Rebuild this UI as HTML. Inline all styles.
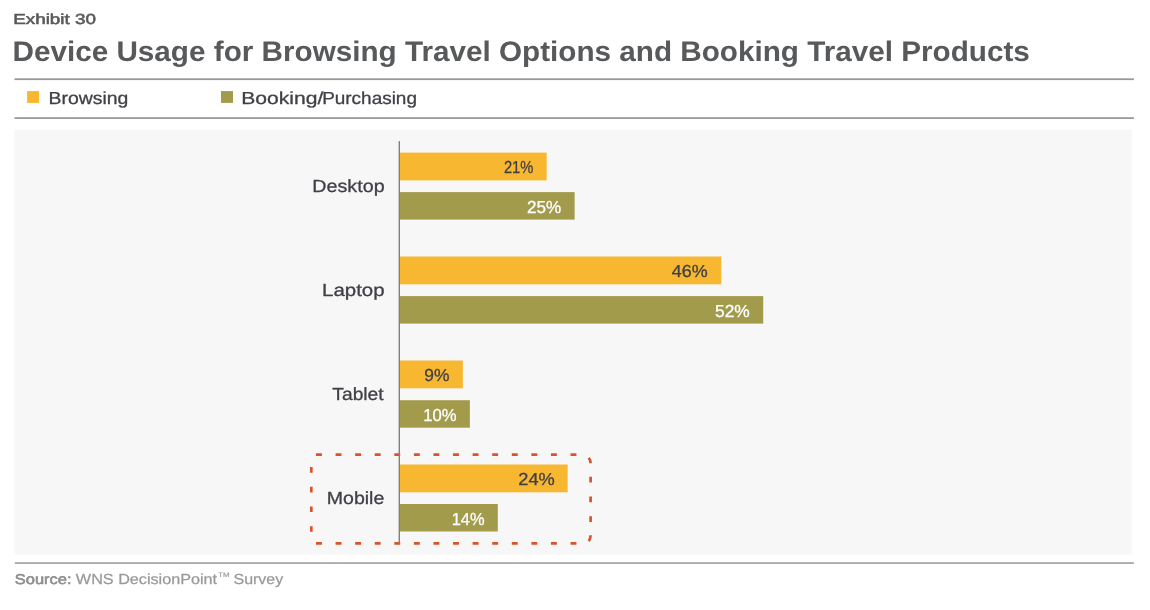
<!DOCTYPE html>
<html>
<head>
<meta charset="utf-8">
<title>Exhibit 30</title>
<style>
html,body{margin:0;padding:0;background:#fff;}
body{width:1150px;height:610px;overflow:hidden;}
svg{display:block;}
text{font-family:"Liberation Sans",sans-serif;text-rendering:geometricPrecision;}
</style>
</head>
<body>
<svg width="1150" height="610" viewBox="0 0 1150 610">
  <rect width="1150" height="610" fill="#ffffff"/>
  <!-- rules -->
  <rect x="14.5" y="78.3" width="1119.4" height="1.8" fill="#999999"/>
  <rect x="14.5" y="117.2" width="1119.4" height="1.8" fill="#999999"/>
  <rect x="14.8" y="562.1" width="1119.1" height="1.9" fill="#adadad"/>
  <!-- legend swatches -->
  <rect x="27.1" y="91.1" width="12" height="11.8" fill="#f8b730"/>
  <rect x="221" y="91.1" width="12" height="11.8" fill="#a39b4c"/>
  <!-- panel -->
  <rect x="14.4" y="129.7" width="1117.7" height="424.8" fill="#f7f7f7"/>
  <!-- bars -->
  <rect x="400" y="152.6" width="146.69" height="27.8" fill="#f8b730"/>
  <rect x="400" y="192.1" width="174.62" height="27.5" fill="#a39b4c"/>
  <rect x="400" y="256.5" width="321.31" height="27.8" fill="#f8b730"/>
  <rect x="400" y="296.1" width="363.22" height="27.5" fill="#a39b4c"/>
  <rect x="400" y="360.5" width="62.87" height="27.8" fill="#f8b730"/>
  <rect x="400" y="400.2" width="69.85" height="27.5" fill="#a39b4c"/>
  <rect x="400" y="464.5" width="167.64" height="27.8" fill="#f8b730"/>
  <rect x="400" y="504.0" width="97.79" height="27.5" fill="#a39b4c"/>
  <!-- dashed highlight -->
  <g stroke="#d9542b" stroke-width="2.7" fill="none">
    <path d="M316 454.7H577" stroke-dasharray="5.9 13.68"/>
    <path d="M316 543.3H577" stroke-dasharray="5.9 13.68"/>
    <path d="M311.3 467.1V532" stroke-dasharray="5.6 14.1"/>
    <path d="M590.6 476.7V523" stroke-dasharray="5.7 14.1"/>
    <path d="M588.7 457.9Q590.5 459.8 590.6 463.2"/>
    <path d="M590.6 535.2Q590.5 539.0 588.7 541.1"/>
  </g>
  <!-- axis -->
  <rect x="398.6" y="141.1" width="1.4" height="402.6" fill="#808080"/>
  <!-- text -->
  <text x="13.15" y="24" font-size="14.5" font-weight="normal" fill="#58595b" stroke="#58595b" stroke-width="0.55" stroke-linejoin="round" textLength="82.82" lengthAdjust="spacingAndGlyphs">Exhibit 30</text>
  <text x="12.53" y="61" font-size="28.3" font-weight="bold" fill="#58595b" textLength="1017.36" lengthAdjust="spacingAndGlyphs">Device Usage for Browsing Travel Options and Booking Travel Products</text>
  <text x="48.54" y="104" font-size="17.4" font-weight="normal" fill="#3f3f46" stroke="#3f3f46" stroke-width="0.3" stroke-linejoin="round" textLength="79.79" lengthAdjust="spacingAndGlyphs">Browsing</text>
  <text><tspan x="241.23" y="104" font-size="17.4" font-weight="normal" fill="#3f3f46" stroke="#3f3f46" stroke-width="0.3" stroke-linejoin="round" textLength="82.04" lengthAdjust="spacingAndGlyphs">Booking/</tspan><tspan x="322.15" y="104" font-size="17.4" font-weight="normal" fill="#3f3f46" stroke="#3f3f46" stroke-width="0.3" stroke-linejoin="round" textLength="94.80" lengthAdjust="spacingAndGlyphs">Purchasing</tspan></text>
  <text x="312.35" y="192" font-size="17.6" font-weight="normal" fill="#3f3f46" stroke="#3f3f46" stroke-width="0.3" stroke-linejoin="round" textLength="72.27" lengthAdjust="spacingAndGlyphs">Desktop</text>
  <text x="322.07" y="296" font-size="17.6" font-weight="normal" fill="#3f3f46" stroke="#3f3f46" stroke-width="0.3" stroke-linejoin="round" textLength="62.55" lengthAdjust="spacingAndGlyphs">Laptop</text>
  <text x="332.35" y="400" font-size="17.6" font-weight="normal" fill="#3f3f46" stroke="#3f3f46" stroke-width="0.3" stroke-linejoin="round" textLength="51.27" lengthAdjust="spacingAndGlyphs">Tablet</text>
  <text x="326.74" y="504" font-size="17.6" font-weight="normal" fill="#3f3f46" stroke="#3f3f46" stroke-width="0.3" stroke-linejoin="round" textLength="57.61" lengthAdjust="spacingAndGlyphs">Mobile</text>
  <text x="503.88" y="173" font-size="17.4" font-weight="normal" fill="#3f3f46" stroke="#3f3f46" stroke-width="0.3" stroke-linejoin="round" textLength="29.47" lengthAdjust="spacingAndGlyphs">21%</text>
  <text x="526.96" y="213" font-size="17.4" font-weight="normal" fill="#ffffff" stroke="#ffffff" stroke-width="0.3" stroke-linejoin="round" textLength="34.22" lengthAdjust="spacingAndGlyphs">25%</text>
  <text x="671.84" y="277" font-size="17.4" font-weight="normal" fill="#3f3f46" stroke="#3f3f46" stroke-width="0.3" stroke-linejoin="round" textLength="35.86" lengthAdjust="spacingAndGlyphs">46%</text>
  <text x="714.98" y="317" font-size="17.4" font-weight="normal" fill="#ffffff" stroke="#ffffff" stroke-width="0.3" stroke-linejoin="round" textLength="34.77" lengthAdjust="spacingAndGlyphs">52%</text>
  <text x="424.26" y="381" font-size="17.4" font-weight="normal" fill="#3f3f46" stroke="#3f3f46" stroke-width="0.3" stroke-linejoin="round" textLength="25.15" lengthAdjust="spacingAndGlyphs">9%</text>
  <text x="423.13" y="421" font-size="17.4" font-weight="normal" fill="#ffffff" stroke="#ffffff" stroke-width="0.3" stroke-linejoin="round" textLength="33.32" lengthAdjust="spacingAndGlyphs">10%</text>
  <text x="518.31" y="485" font-size="17.4" font-weight="normal" fill="#3f3f46" stroke="#3f3f46" stroke-width="0.3" stroke-linejoin="round" textLength="36.54" lengthAdjust="spacingAndGlyphs">24%</text>
  <text x="451.64" y="525" font-size="17.4" font-weight="normal" fill="#ffffff" stroke="#ffffff" stroke-width="0.3" stroke-linejoin="round" textLength="32.89" lengthAdjust="spacingAndGlyphs">14%</text>
  <text><tspan x="14.81" y="584" font-size="14.2" font-weight="normal" fill="#8e8e8e" stroke="#8e8e8e" stroke-width="0.6" stroke-linejoin="round" textLength="56.68" lengthAdjust="spacingAndGlyphs">Source:</tspan> <tspan x="75.89" y="584" font-size="14.6" font-weight="normal" fill="#999999" stroke="#999999" stroke-width="0.25" stroke-linejoin="round" textLength="141.24" lengthAdjust="spacingAndGlyphs">WNS DecisionPoint</tspan><tspan x="218.27" y="577" font-size="6.5" font-weight="normal" fill="#999999" stroke="#999999" stroke-width="0.15" stroke-linejoin="round" textLength="11.32" lengthAdjust="spacingAndGlyphs">TM</tspan> <tspan x="233.46" y="584" font-size="14.6" font-weight="normal" fill="#999999" stroke="#999999" stroke-width="0.25" stroke-linejoin="round" textLength="49.81" lengthAdjust="spacingAndGlyphs">Survey</tspan></text>
</svg>
</body>
</html>
